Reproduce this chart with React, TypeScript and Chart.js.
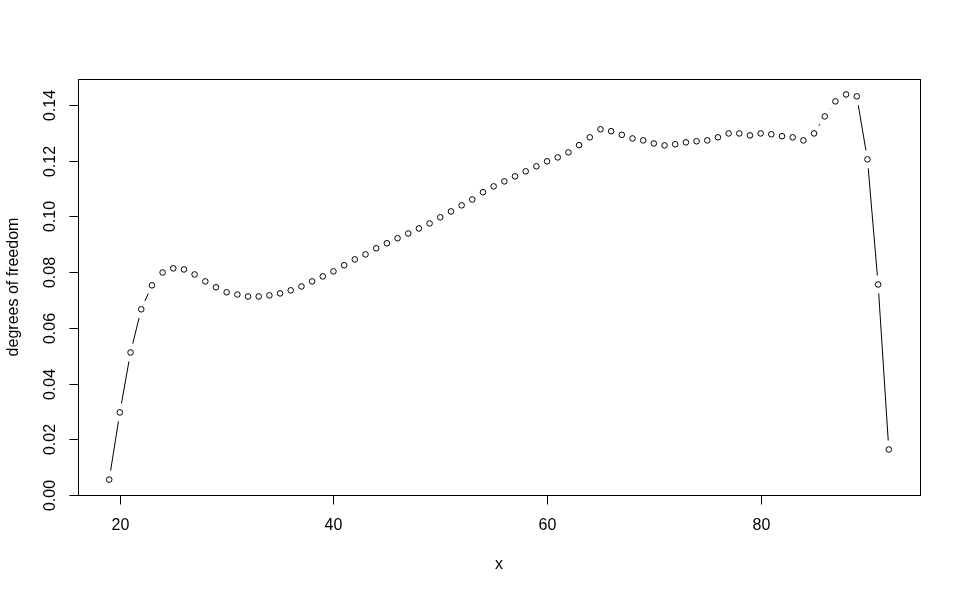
import React, { useEffect, useRef } from "react";
import { Chart, registerables } from "chart.js";

Chart.register(...registerables);

const xValues: number[] = [
  19, 20, 21, 22, 23, 24, 25, 26, 27, 28, 29, 30, 31, 32, 33, 34, 35, 36, 37, 38,
  39, 40, 41, 42, 43, 44, 45, 46, 47, 48, 49, 50, 51, 52, 53, 54, 55, 56, 57, 58,
  59, 60, 61, 62, 63, 64, 65, 66, 67, 68, 69, 70, 71, 72, 73, 74, 75, 76, 77, 78,
  79, 80, 81, 82, 83, 84, 85, 86, 87, 88, 89, 90, 91, 92,
];

const dfValues: number[] = [
  0.0056, 0.0297, 0.0512, 0.0667, 0.0753, 0.0799, 0.0814, 0.081, 0.0792, 0.0767,
  0.0746, 0.0728, 0.072, 0.0713, 0.0713, 0.0717, 0.0724, 0.0735, 0.0749, 0.0767,
  0.0785, 0.0803, 0.0825, 0.0846, 0.0864, 0.0886, 0.0904, 0.0922, 0.0939, 0.0957,
  0.0975, 0.0997, 0.1018, 0.104, 0.1061, 0.1087, 0.1108, 0.1126, 0.1144, 0.1162,
  0.118, 0.1198, 0.1212, 0.123, 0.1256, 0.1284, 0.1313, 0.1306, 0.1293, 0.128,
  0.1273, 0.1262, 0.1255, 0.1259, 0.1266, 0.127, 0.1273, 0.1284, 0.1298, 0.1298,
  0.1291, 0.1298, 0.1295, 0.1288, 0.1284, 0.1273, 0.1298, 0.1359, 0.1413, 0.1438,
  0.1431, 0.1205, 0.0756, 0.0164,
];

const xTicks: number[] = [20, 40, 60, 80];
const yTicks: number[] = [0, 0.02, 0.04, 0.06, 0.08, 0.1, 0.12, 0.14];
const yTickLabels: string[] = ["0.00", "0.02", "0.04", "0.06", "0.08", "0.10", "0.12", "0.14"];
const xTitle = "x";
const yTitle = "degrees of freedom";

const FONT = '16px "Liberation Sans", Arial, sans-serif';

function extend(arr: number[]): [number, number] {
  const mn = Math.min(...arr);
  const mx = Math.max(...arr);
  const r = mx - mn;
  return [mn - 0.04 * r, mx + 0.04 * r];
}

const gapLinesPlugin = {
  id: "gapLines",
  beforeDatasetsDraw(chart: any) {
    const meta = chart.getDatasetMeta(0);
    const ctx = chart.ctx;
    const gap = 9;
    ctx.save();
    ctx.strokeStyle = "#000";
    ctx.lineWidth = 1;
    for (let i = 0; i < meta.data.length - 1; i++) {
      const p0 = meta.data[i];
      const p1 = meta.data[i + 1];
      const dx = p1.x - p0.x;
      const dy = p1.y - p0.y;
      const d = Math.sqrt(dx * dx + dy * dy);
      if (d <= 2 * gap) continue;
      const ux = dx / d;
      const uy = dy / d;
      ctx.beginPath();
      ctx.moveTo(p0.x + ux * gap, p0.y + uy * gap);
      ctx.lineTo(p1.x - ux * gap, p1.y - uy * gap);
      ctx.stroke();
    }
    ctx.restore();
  },
};

const rAxesPlugin = {
  id: "rAxes",
  afterDraw(chart: any) {
    const ctx = chart.ctx;
    const a = chart.chartArea;
    const xs = chart.scales.x;
    const ys = chart.scales.y;
    const L = Math.round(a.left) + 0.5;
    const R = Math.round(a.right) + 0.5;
    const T = Math.round(a.top) + 0.5;
    const B = Math.round(a.bottom) + 0.5;
    ctx.save();
    ctx.strokeStyle = "#000";
    ctx.fillStyle = "#000";
    ctx.lineWidth = 1;
    ctx.strokeRect(L, T, R - L, B - T);
    ctx.font = FONT;

    // x axis
    ctx.beginPath();
    ctx.moveTo(Math.round(xs.getPixelForValue(xTicks[0])) + 0.5, B);
    ctx.lineTo(Math.round(xs.getPixelForValue(xTicks[xTicks.length - 1])) + 0.5, B);
    ctx.stroke();
    ctx.textAlign = "center";
    ctx.textBaseline = "middle";
    xTicks.forEach((t) => {
      const px = Math.round(xs.getPixelForValue(t)) + 0.5;
      ctx.beginPath();
      ctx.moveTo(px, B);
      ctx.lineTo(px, B + 9);
      ctx.stroke();
      ctx.fillText(String(t), px, B + 30);
    });

    // y axis
    ctx.beginPath();
    ctx.moveTo(L, Math.round(ys.getPixelForValue(yTicks[0])) + 0.5);
    ctx.lineTo(L, Math.round(ys.getPixelForValue(yTicks[yTicks.length - 1])) + 0.5);
    ctx.stroke();
    yTicks.forEach((t, i) => {
      const py = Math.round(ys.getPixelForValue(t)) + 0.5;
      ctx.beginPath();
      ctx.moveTo(L, py);
      ctx.lineTo(L - 9, py);
      ctx.stroke();
      ctx.save();
      ctx.translate(L - 28, py);
      ctx.rotate(-Math.PI / 2);
      ctx.fillText(yTickLabels[i], 0, 0);
      ctx.restore();
    });

    // titles
    ctx.fillText(xTitle, (a.left + a.right) / 2, B + 69);
    ctx.save();
    ctx.translate(L - 65, (a.top + a.bottom) / 2);
    ctx.rotate(-Math.PI / 2);
    ctx.fillText(yTitle, 0, 0);
    ctx.restore();
    ctx.restore();
  },
};

export default function App() {
  const ref = useRef<HTMLCanvasElement | null>(null);

  useEffect(() => {
    if (!ref.current) return;
    const [xmin, xmax] = extend(xValues);
    const [ymin, ymax] = extend(dfValues);
    const chart = new Chart(ref.current, {
      type: "scatter",
      data: {
        datasets: [
          {
            data: xValues.map((x, i) => ({ x, y: dfValues[i] })),
            showLine: false,
            pointStyle: "circle",
            pointRadius: 2.8,
            pointBorderWidth: 1,
            pointBorderColor: "#000",
            pointBackgroundColor: "rgba(0,0,0,0)",
            pointHoverRadius: 2.8,
          },
        ],
      },
      options: {
        animation: false,
        responsive: false,
        maintainAspectRatio: false,
        events: [],
        layout: { padding: { left: 78, right: 40, top: 79, bottom: 98 } },
        plugins: {
          legend: { display: false },
          tooltip: { enabled: false },
        },
        scales: {
          x: { type: "linear", min: xmin, max: xmax, display: false },
          y: { type: "linear", min: ymin, max: ymax, display: false },
        },
      },
      plugins: [gapLinesPlugin, rAxesPlugin],
    });
    return () => chart.destroy();
  }, []);

  return (
    <div style={{ position: "fixed", left: 0, top: 0, width: 960, height: 593, background: "#fff" }}>
      <canvas ref={ref} width={960} height={593} style={{ width: 960, height: 593 }} />
    </div>
  );
}
